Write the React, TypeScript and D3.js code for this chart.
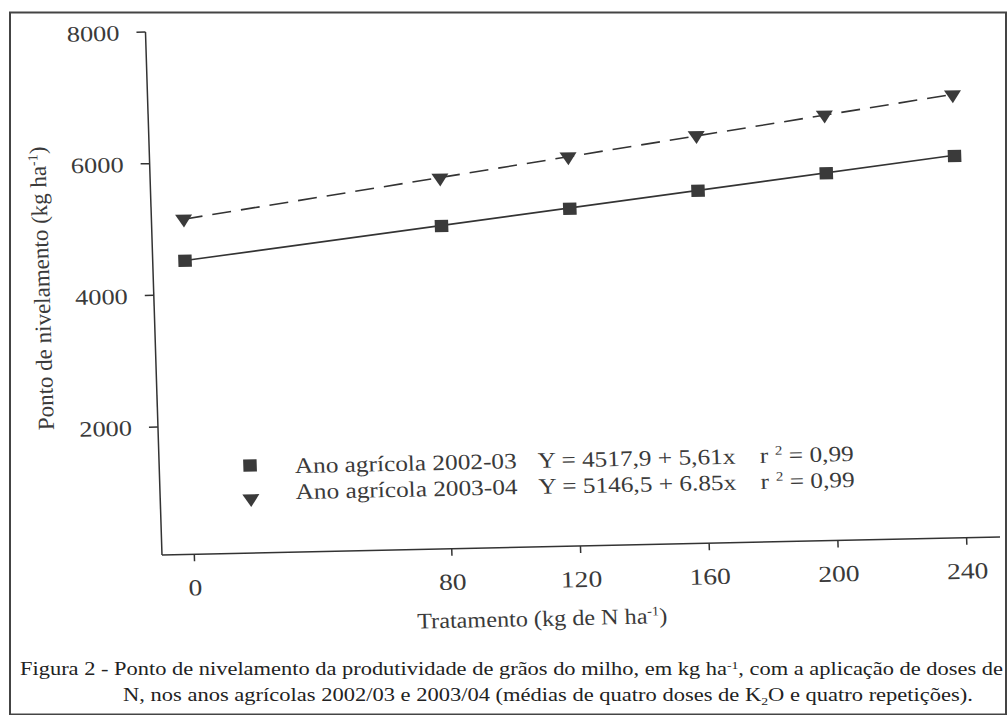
import React from "react";
import * as d3 from "d3";

const doses = [0, 80, 120, 160, 200, 240];
const yield0203 = [4515, 4960, 5180, 5410, 5635, 5855];
const yield0304 = [5150, 5690, 5970, 6250, 6520, 6785];
const xTicks = [0, 80, 120, 160, 200, 240];
const yTicks = [2000, 4000, 6000, 8000];
const fit0203 = { a: 4517.9, b: 5.61 };
const fit0304 = { a: 5146.5, b: 6.85 };
const legendLabels = ["Ano agrícola 2002-03", "Ano agrícola 2003-04"];
const legendEq = ["Y = 4517,9 + 5,61x", "Y = 5146,5 + 6.85x"];
const legendR2 = ["0,99", "0,99"];

const W = 1008;
const H = 715;
const FONT = "'Liberation Serif', 'Times New Roman', serif";
const INK = "#3a3a3a";
// skew of the scanned figure
const B = -0.0215;
const C = 0.0316;
const OX = 162;
const OY = 555;

const x = d3.scaleLinear().domain([0, 240]).range([194.3, 966.6]);
const y = d3.scaleLinear().domain([0, 8000]).range([558.7, 32]);

function Txt(props: any) {
  const { x: tx, y: ty, anchor = "start", size = 22, sx = 1.15, children, fill = INK } = props;
  return (
    <text
      transform={`translate(${tx},${ty}) scale(${sx},1)`}
      textAnchor={anchor}
      fontSize={size}
      fontFamily={FONT}
      fill={fill}
    >
      {children}
    </text>
  );
}

export default function App() {
  const mkFit = (f: { a: number; b: number }) =>
    d3
      .line<number>()
      .x((d) => x(d))
      .y((d) => y(f.a + f.b * d))([0, 240]) || "";
  const square = d3.symbol().type(d3.symbolSquare).size(150)() || "";
  const tri = d3.symbol().type(d3.symbolTriangle).size(95)() || "";

  const skew = `matrix(1,${B},${C},1,${-C * OY},${-B * OX})`;

  return (
    <svg
      width={W}
      height={H}
      style={{ position: "absolute", left: 0, top: 0, background: "#fff" }}
    >
      <rect x={0} y={0} width={W} height={H} fill="#fff" />
      <rect x={10} y={12.5} width={996} height={702} fill="none" stroke="#444" strokeWidth={2} />

      <g transform={skew}>
        {/* axes */}
        <line x1={OX} y1={y(8000)} x2={OX} y2={OY} stroke="#333" strokeWidth={1.5} />
        <line x1={OX} y1={OY} x2={1000} y2={OY} stroke="#333" strokeWidth={1.5} />
        {yTicks.map((t) => (
          <g key={"yt" + t}>
            <line x1={OX - 9} x2={OX} y1={y(t)} y2={y(t)} stroke="#333" strokeWidth={1.5} />
            <Txt x={136} y={y(t) + 8} anchor="end" size={22} sx={1.2}>
              {t}
            </Txt>
          </g>
        ))}
        {xTicks.map((t) => (
          <g key={"xt" + t}>
            <line x1={x(t)} x2={x(t)} y1={OY} y2={OY + 7} stroke="#333" strokeWidth={1.5} />
            <Txt x={x(t)} y={596} anchor="middle" size={23} sx={1.2}>
              {t}
            </Txt>
          </g>
        ))}

        {/* axis titles */}
        <Txt x={540} y={634} anchor="middle" size={22} sx={1.1}>
          Tratamento (kg de N ha
          <tspan dy={-8} fontSize={13}>-1</tspan>
          <tspan dy={8}>)</tspan>
        </Txt>
        <text
          transform={`translate(58,286) rotate(-90)`}
          textAnchor="middle"
          fontSize={23}
          fontFamily={FONT}
          fill={INK}
        >
          Ponto de nivelamento (kg ha
          <tspan dy={-8} fontSize={14}>-1</tspan>
          <tspan dy={8}>)</tspan>
        </text>

        {/* fitted lines */}
        <path d={mkFit(fit0203)} fill="none" stroke="#333" strokeWidth={1.6} />
        <path d={mkFit(fit0304)} fill="none" stroke="#333" strokeWidth={1.6} strokeDasharray="19,10" />

        {/* points */}
        {doses.map((d, i) => (
          <path
            key={"s" + d}
            d={square}
            transform={`translate(${x(d)},${y(yield0203[i])}) scale(1.1,1)`}
            fill="#3a3a3a"
          />
        ))}
        {doses.map((d, i) => (
          <path
            key={"t" + d}
            d={tri}
            transform={`translate(${x(d)},${y(yield0304[i])}) scale(1.15,1) rotate(180)`}
            fill="#3a3a3a"
          />
        ))}

        {/* legend */}
        <path d={square} transform={`translate(252.8,467.4) scale(1.1,1)`} fill="#3a3a3a" />
        <path d={tri} transform={`translate(252.7,500.5) scale(1.15,1) rotate(180)`} fill="#3a3a3a" />
        {[476, 502].map((by, i) => (
          <g key={"lg" + i}>
            <Txt x={297.5} y={by}>{legendLabels[i]}</Txt>
            <Txt x={540.5} y={by}>{legendEq[i]}</Txt>
            <Txt x={762.5} y={by}>
              r
              <tspan dx={6} dy={-8} fontSize={13}>2</tspan>
              <tspan dy={8}> = {legendR2[i]}</tspan>
            </Txt>
          </g>
        ))}
      </g>

      {/* caption */}
      <text
        x={20}
        y={675}
        fontSize={18}
        fontFamily={FONT}
        fill="#222"
        textLength={983}
        lengthAdjust="spacingAndGlyphs"
      >
        Figura 2 - Ponto de nivelamento da produtividade de grãos do milho, em kg ha
        <tspan dy={-6} fontSize={11}>-1</tspan>
        <tspan dy={6}>, com a aplicação de doses de</tspan>
      </text>
      <text
        x={123}
        y={701}
        fontSize={18}
        fontFamily={FONT}
        fill="#222"
        textLength={850}
        lengthAdjust="spacingAndGlyphs"
      >
        N, nos anos agrícolas 2002/03 e 2003/04 (médias de quatro doses de K
        <tspan dy={4} fontSize={11}>2</tspan>
        <tspan dy={-4}>O e quatro repetições).</tspan>
      </text>
    </svg>
  );
}
